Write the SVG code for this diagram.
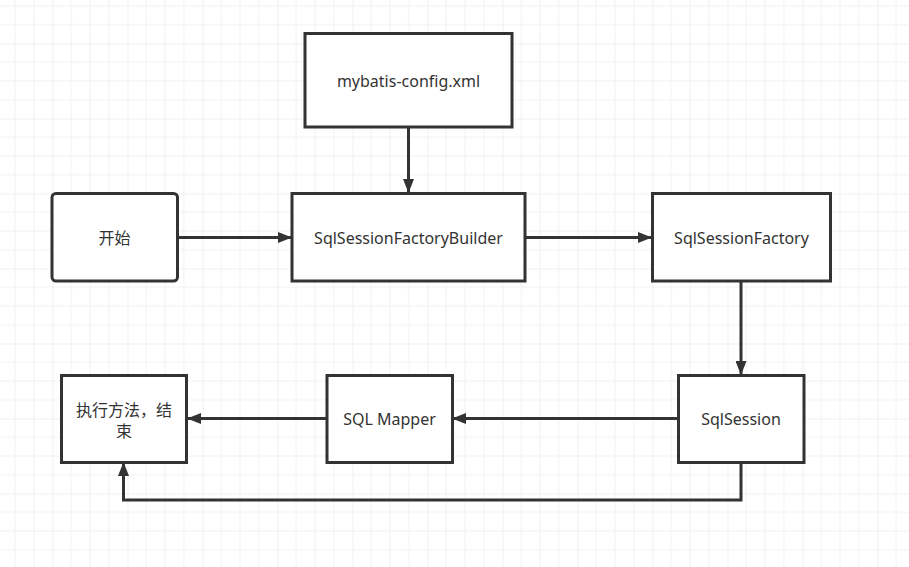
<svg xmlns="http://www.w3.org/2000/svg" width="909" height="567" viewBox="0 0 909 567">
<defs>
<pattern id="grid" x="52.5" y="43.5" width="75" height="75" patternUnits="userSpaceOnUse">
<path d="M18.75 0V75M37.5 0V75M56.25 0V75M0 18.75H75M0 37.5H75M0 56.25H75" stroke="#f1f1f1" stroke-width="1" fill="none"/>
<path d="M0 0V75M0 0H75" stroke="#e4e4e4" stroke-width="1" fill="none"/>
</pattern>
<marker id="arr" viewBox="0 0 14 11" refX="13" refY="5.5" markerWidth="14" markerHeight="11" markerUnits="userSpaceOnUse" orient="auto">
<path d="M0 0L14 5.5L0 11Z" fill="#333"/>
</marker>
<style>
.box{fill:#fff;stroke:#333;stroke-width:3}
.t{font-family:"Noto Sans","Noto Sans CJK SC",sans-serif;font-size:16px;fill:#333;text-anchor:middle;dominant-baseline:central}
.c{fill:none;stroke:#333;stroke-width:3;marker-end:url(#arr)}
</style>
</defs>
<rect width="909" height="567" fill="#fff"/>
<rect width="909" height="567" fill="url(#grid)"/>
<g id="connectors">
<path class="c" d="M408.5 127V192"/>
<path class="c" d="M177.5 237.5H291"/>
<path class="c" d="M525 237.5H651"/>
<path class="c" d="M741 281V374"/>
<path class="c" d="M678 418.5H453"/>
<path class="c" d="M327 418.5H188"/>
<path class="c" d="M741 462V500H123.5V463"/>
</g>
<g id="n-config"><rect class="box" x="305" y="33.5" width="207" height="93.5"/><text class="t" x="408.5" y="80.5">mybatis-config.xml</text></g>
<g id="n-start"><rect class="box" x="52" y="193.5" width="125.5" height="87.5" rx="4"/><text class="t" x="114.5" y="237.5">开始</text></g>
<g id="n-builder"><rect class="box" x="292" y="193.5" width="233" height="87.5"/><text class="t" x="408.5" y="237.5">SqlSessionFactoryBuilder</text></g>
<g id="n-factory"><rect class="box" x="652.5" y="193.5" width="178" height="87.5"/><text class="t" x="741.5" y="237.5">SqlSessionFactory</text></g>
<g id="n-session"><rect class="box" x="678.5" y="375.5" width="125.5" height="87"/><text class="t" x="741" y="418.5">SqlSession</text></g>
<g id="n-mapper"><rect class="box" x="327" y="375.5" width="125.5" height="87"/><text class="t" x="389.5" y="418.5">SQL Mapper</text></g>
<g id="n-end"><rect class="box" x="61.5" y="375.5" width="125" height="87"/><text class="t" x="124" y="409.5">执行方法，结</text><text class="t" x="124" y="430.5">束</text></g>
</svg>
